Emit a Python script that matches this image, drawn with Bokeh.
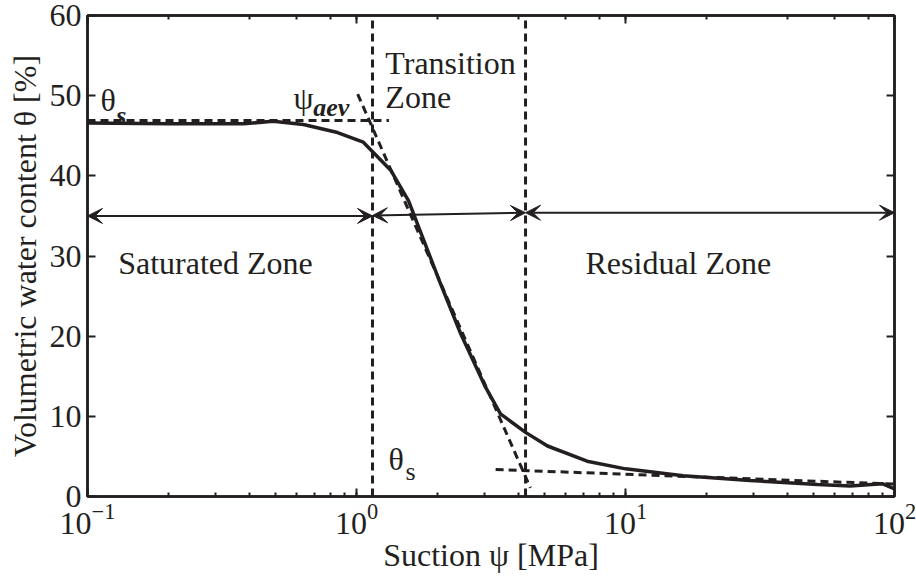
from bokeh.plotting import figure
from bokeh.models import LogAxis, LinearAxis, Arrow, VeeHead, ColumnDataSource, LogTicker, FixedTicker
from bokeh.core.properties import value
from bokeh.embed import file_html
from bokeh.resources import INLINE

# ---- data ----
psi = [0.1, 0.2, 0.38, 0.49, 0.635, 0.85, 1.06, 1.34, 1.56, 2.05, 2.44, 3.02, 3.43,
       4.25, 5.13, 7.2, 10, 16.4, 29, 51.8, 68.5, 90, 100]
theta = [46.6, 46.5, 46.5, 46.8, 46.4, 45.4, 44.2, 40.7, 36.9, 26.6, 20.3, 13.6, 10.3,
         8.0, 6.3, 4.4, 3.45, 2.6, 2.0, 1.5, 1.3, 1.6, 0.95]

# tangent construction lines
sat_x = [0.1, 1.32]
sat_y = [46.9, 46.9]
slope_x = [1.01, 4.43]
slope_y = [50.2, 1.08]
res_x = [3.29, 100]
res_y = [3.37, 1.55]

# zone boundaries (air-entry value, residual suction)
psi_aev = 1.147
psi_res = 4.25
zone_bounds = [0.1, psi_aev, psi_res, 100]
arrow_y_start = [35.0, 35.05, 35.4]
arrow_y_end = [35.0, 35.4, 35.4]

# annotation texts (x, y in data units)
zone_text = ["Saturated Zone", "Residual Zone", "Transition", "Zone"]
zone_text_x = [0.130, 7.1, 1.28, 1.28]
zone_text_y = [29.1, 29.1, 54.1, 49.8]

sym_text = ["θ", "ψ", "θ"]
sym_x = [0.1118, 0.583, 1.315]
sym_y = [49.4, 49.65, 4.74]

sub_bi_text = ["s", "aev"]
sub_bi_x = [0.128, 0.691]
sub_bi_y = [47.5, 48.5]

sub_text = ["s"]
sub_x = [1.52]
sub_y = [3.12]

y_ticks = [0, 10, 20, 30, 40, 50, 60]

INK = "#231f20"
FONT = "Liberation Serif"

p = figure(width=916, height=576, x_axis_type="log", x_range=(0.1, 100), y_range=(0, 60),
           output_backend="svg", toolbar_location=None,
           min_border_left=87, min_border_right=22, min_border_top=15, min_border_bottom=80)
p.xgrid.visible = False
p.ygrid.visible = False
p.outline_line_color = INK
p.outline_line_width = 2.5
p.background_fill_color = "white"
p.border_fill_color = "white"

def style_axis(ax, labels=True):
    ax.axis_line_color = INK
    ax.axis_line_width = 2.5
    ax.major_tick_line_color = INK
    ax.major_tick_line_width = 2
    ax.minor_tick_line_color = INK
    ax.minor_tick_line_width = 2
    ax.major_tick_in = 8
    ax.major_tick_out = 0
    ax.minor_tick_in = 4
    ax.minor_tick_out = 0
    ax.major_label_text_font = FONT
    ax.major_label_text_color = INK
    if labels:
        ax.major_label_text_font_size = "32px"
    else:
        ax.major_label_text_font_size = "6px"
        ax.major_label_text_alpha = 0
        ax.major_label_standoff = 0

style_axis(p.xaxis[0])
style_axis(p.yaxis[0])
p.yaxis[0].ticker = FixedTicker(ticks=y_ticks)
p.yaxis[0].minor_tick_line_color = None
p.yaxis[0].major_label_standoff = 6
p.xaxis[0].major_label_standoff = 7

p.xaxis.axis_label = "Suction ψ [MPa]"
p.yaxis.axis_label = "Volumetric water content θ [%]"
for ax in (p.xaxis[0], p.yaxis[0]):
    ax.axis_label_text_font = FONT
    ax.axis_label_text_font_size = "32px"
    ax.axis_label_text_font_style = "normal"
    ax.axis_label_text_color = INK
p.xaxis[0].axis_label_standoff = 0
p.yaxis[0].axis_label_standoff = 4

top = LogAxis(ticker=LogTicker())
style_axis(top, labels=False)
p.add_layout(top, "above")
right = LinearAxis(ticker=FixedTicker(ticks=y_ticks))
style_axis(right, labels=False)
right.minor_tick_line_color = None
p.add_layout(right, "right")

# vertical zone boundaries
for b in (psi_aev, psi_res):
    p.line([b, b], [0, 60], line_color=INK, line_width=3, line_dash="8 5")

# tangent lines
p.line(sat_x, sat_y, line_color=INK, line_width=3, line_dash="8 5")
p.line(slope_x, slope_y, line_color=INK, line_width=3, line_dash="8 5")
p.line(res_x, res_y, line_color=INK, line_width=3, line_dash="8 5")

# SWCC
p.line(psi, theta, line_color=INK, line_width=3.5)

# zone arrows
arr_src = ColumnDataSource(dict(x0=zone_bounds[:-1], x1=zone_bounds[1:],
                                y0=arrow_y_start, y1=arrow_y_end))
p.add_layout(Arrow(x_start="x0", y_start="y0", x_end="x1", y_end="y1", source=arr_src,
                   line_color=INK, line_width=2,
                   start=VeeHead(size=15, fill_color=INK, line_color=INK, line_width=1),
                   end=VeeHead(size=15, fill_color=INK, line_color=INK, line_width=1)))

p.text(x=zone_text_x, y=zone_text_y, text=zone_text, text_font=value(FONT),
       text_font_size="32px", text_color=INK, text_baseline="alphabetic", text_align="left")
p.text(x=sym_x, y=sym_y, text=sym_text, text_font=value(FONT),
       text_font_size="32px", text_color=INK, text_baseline="alphabetic", text_align="left")
p.text(x=sub_bi_x, y=sub_bi_y, text=sub_bi_text, text_font=value(FONT),
       text_font_size="26px", text_font_style="bold italic", text_color=INK,
       text_baseline="alphabetic", text_align="left")
p.text(x=sub_x, y=sub_y, text=sub_text, text_font=value(FONT),
       text_font_size="26px", text_color=INK, text_baseline="alphabetic", text_align="left")

open("out.html", "w").write(file_html(p, INLINE))
